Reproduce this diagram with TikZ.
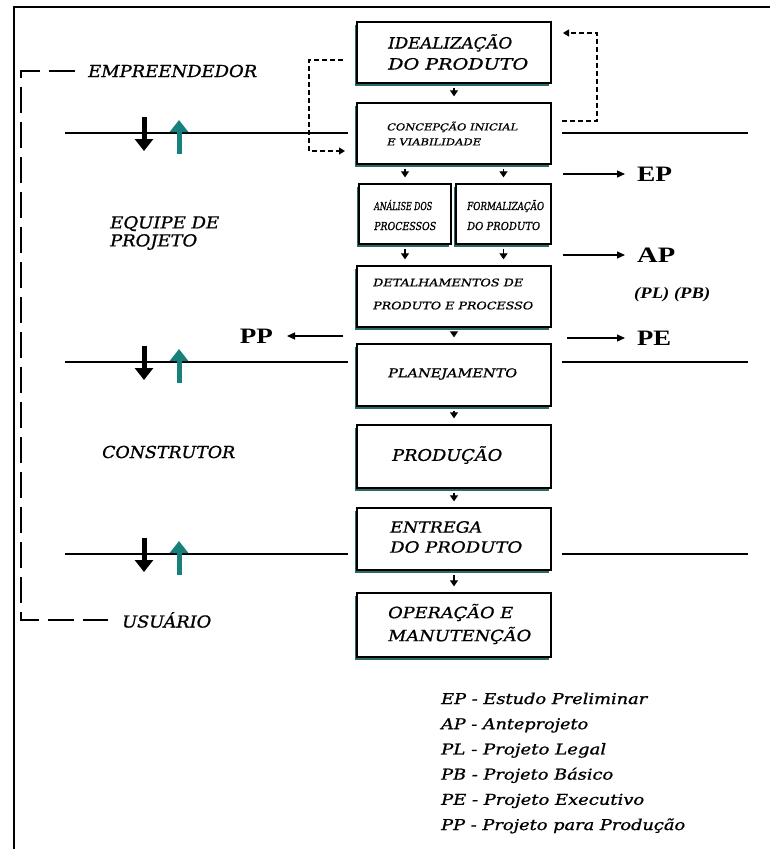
\documentclass[tikz,border=0pt]{standalone}
\usepackage{fontspec}
\usepackage{graphicx}
\setmainfont{DejaVu Serif}[ItalicFeatures={FakeBold=0.9}]
\newfontfamily\boldlab{Liberation Serif}
\usetikzlibrary{arrows.meta,calc,shadows}

\definecolor{flowteal}{HTML}{17807D}
\definecolor{shadeteal}{HTML}{2A6B68}

% stretch one line of text to a given width (in pt), keeping its height
\newcommand\fitline[2]{\resizebox{#1pt}{\height}{#2}}

\begin{document}
\begin{tikzpicture}[x=1pt,y=-1pt,
  stagebox/.style={draw=black, line width=1.3pt, fill=white, inner sep=0pt,
    drop shadow={shadow xshift=-2pt, shadow yshift=-3pt, fill=shadeteal, opacity=1}},
  txt/.style={inner sep=0pt, align=left, anchor=west},
  stagefont/.style 2 args={font={\fontsize{#1}{#2}\selectfont\itshape}},
  flowarrow/.style={line width=1.2pt, -{Triangle[width=8pt,length=6pt]},
    shorten <=4pt, shorten >=6pt},
  outarrow/.style={line width=1.2pt, -{Triangle[width=7pt,length=8pt]}},
  loopline/.style={line width=1.1pt, dash pattern=on 5pt off 3pt,
    -{Triangle[width=7pt,length=6pt]}},
  partyline/.style={line width=1.2pt, dash pattern=on 26pt off 9pt},
  phaseline/.style={line width=1.2pt},
  downfat/.style={line width=5pt, black, -{Triangle[width=18pt,length=12pt]}},
  upfat/.style={line width=5pt, flowteal, -{Triangle[width=18pt,length=12pt]}},
  bigcode/.style={inner sep=0pt, font={\boldlab\fontsize{22}{24}\selectfont\bfseries}},
]
% canvas and frame
\fill[white] (0,0) rectangle (770,849);
\useasboundingbox (0,0) rectangle (770,849);
\draw[line width=2pt] (770,7) -- (14,7) -- (14,849);

% phase separation lines
\foreach \yy in {133,362,554} {
  \draw[phaseline] (65,\yy) -- (348,\yy);
  \draw[phaseline] (562,\yy) -- (748,\yy);
  \draw[downfat] (144,\yy-16) -- (144,\yy+18);
  \draw[upfat] (179,\yy+21) -- (179,\yy-13);
}

% process stages
\node[stagebox, minimum width=194pt, minimum height=61pt] (ideal) at (454,52.5) {};
\node[txt, stagefont={15.5}{21}] (idealtxt) at (388,52)
  {\fitline{124}{IDEALIZAÇÃO}\\\fitline{140}{DO PRODUTO}};

\node[stagebox, minimum width=194pt, minimum height=61pt] (conc) at (454,133.5) {};
\node[txt, stagefont={9.5}{15}] (conctxt) at (387,133.5)
  {\fitline{131}{CONCEPÇÃO INICIAL}\\\fitline{94}{E VIABILIDADE}};

\node[stagebox, minimum width=92pt, minimum height=60pt] (anal) at (405,214) {};
\node[txt, stagefont={11}{20}] (analtxt) at (374,215)
  {\fitline{58}{ANÁLISE DOS}\\\fitline{62}{PROCESSOS}};

\node[stagebox, minimum width=95pt, minimum height=60pt] (form) at (503.5,214) {};
\node[txt, stagefont={11}{20}] (formtxt) at (467,215)
  {\fitline{77}{FORMALIZAÇÃO}\\\fitline{73}{DO PRODUTO}};

\node[stagebox, minimum width=194pt, minimum height=61pt] (detal) at (454,296.5) {};
\node[txt, stagefont={10.5}{23}] (detaltxt) at (373,294)
  {\fitline{150}{DETALHAMENTOS DE}\\\fitline{160}{PRODUTO E PROCESSO}};

\node[stagebox, minimum width=194pt, minimum height=62pt] (plan) at (454,375) {};
\node[txt, stagefont={12}{14}] (plantxt) at (388,374) {\fitline{129}{PLANEJAMENTO}};

\node[stagebox, minimum width=194pt, minimum height=63pt] (prod) at (454,456.5) {};
\node[txt, stagefont={16}{18}] (prodtxt) at (392,455) {\fitline{110}{PRODUÇÃO}};

\node[stagebox, minimum width=194pt, minimum height=62pt] (entr) at (454,539) {};
\node[txt, stagefont={15.5}{20}] (entrtxt) at (390,537)
  {\fitline{92}{ENTREGA}\\\fitline{132}{DO PRODUTO}};

\node[stagebox, minimum width=194pt, minimum height=64pt] (oper) at (454,625) {};
\node[txt, stagefont={15.5}{23}] (opertxt) at (388,624)
  {\fitline{125}{OPERAÇÃO E}\\\fitline{143}{MANUTENÇÃO}};

% flow between stages
\draw[flowarrow] (ideal.south) -- (conc.north);
\draw[flowarrow] (anal.north |- conc.south) -- (anal.north);
\draw[flowarrow] (form.north |- conc.south) -- (form.north);
\draw[flowarrow] (anal.south) -- (anal.south |- detal.north);
\draw[flowarrow] (form.south) -- (form.south |- detal.north);
\draw[flowarrow] (detal.south) -- (plan.north);
\draw[flowarrow] (plan.south) -- (prod.north);
\draw[flowarrow] (prod.south) -- (entr.north);
\draw[flowarrow] (entr.south) -- (oper.north);

% feedback loops between idealization and conception
\coordinate (lA) at (343,60);
\coordinate (lB) at (345,151);
\draw[loopline] (lA) -- ++(-34,0) |- (lB);
\coordinate (rA) at (562,121);
\coordinate (rB) at (563,33);
\draw[loopline] (rA) -- ++(35,0) |- (rB);

% participants
\node[txt, stagefont={16.5}{18}] (empr) at (88,71) {\fitline{169}{EMPREENDEDOR}};
\node[txt, stagefont={16.5}{18}] (equipe) at (110,233)
  {\fitline{109}{EQUIPE DE}\\\fitline{87}{PROJETO}};
\node[txt, stagefont={16.5}{18}] (constr) at (102,452) {\fitline{133}{CONSTRUTOR}};
\node[txt, stagefont={16.5}{18}] (usu) at (122,620) {\fitline{89}{USUÁRIO}};
\draw[partyline] ([xshift=-13pt]empr.west) -- ++(-54,0) |- ([xshift=-14pt]usu.west);

% project deliverables
\node[bigcode, anchor=west] (ep) at (637,174) {\fitline{35}{EP}};
\node[bigcode, anchor=west] (ap) at (637,255) {\fitline{38}{AP}};
\node[inner sep=0pt, anchor=west, font={\boldlab\fontsize{16}{18}\selectfont\bfseries\itshape}]
  (plpb) at (634,295) {\fitline{76}{(PL) (PB)}};
\node[bigcode, anchor=west] (pe) at (637,338) {\fitline{34}{PE}};
\node[bigcode, anchor=east] (pp) at (273,336) {\fitline{33}{PP}};

\coordinate (epfrom) at (563,174);
\coordinate (apfrom) at (563,255);
\coordinate (pefrom) at (567,338);
\coordinate (ppfrom) at (343,336);
\draw[outarrow, shorten >=12pt] (epfrom) -- (ep.west);
\draw[outarrow, shorten >=12pt] (apfrom) -- (ap.west);
\draw[outarrow, shorten >=12pt] (pefrom) -- (pe.west);
\draw[outarrow, shorten >=14pt] (ppfrom) -- (pp.east);

% legend
\node[txt, stagefont={15}{25.2}] (legend) at (441,763)
  {\fitline{206}{EP - Estudo Preliminar}\\
   \fitline{147}{AP - Anteprojeto}\\
   \fitline{165}{PL - Projeto Legal}\\
   \fitline{172}{PB - Projeto Básico}\\
   \fitline{203}{PE - Projeto Executivo}\\
   \fitline{244}{PP - Projeto para Produção}};
\end{tikzpicture}
\end{document}
